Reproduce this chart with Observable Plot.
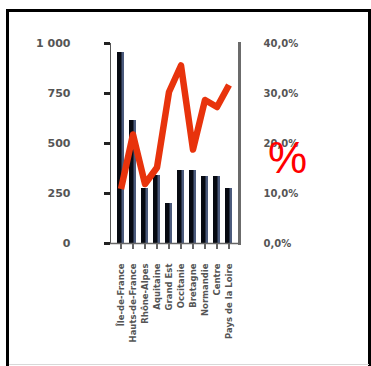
<!DOCTYPE html>
<html>
<head>
<meta charset="utf-8">
<script src="https://cdn.jsdelivr.net/npm/d3@7"></script>
<script src="https://cdn.jsdelivr.net/npm/@observablehq/plot@0.6"></script>
<style>
  html, body { margin: 0; padding: 0; background: #fff; overflow: hidden; }
  body { width: 371px; height: 366px; position: relative; font-family: "Liberation Sans", Arial, sans-serif; }
  #frame { position: absolute; left: 6px; top: 9px; width: 365px; height: 420px; box-sizing: border-box; border: 3px solid #000; }
  #foot { position: absolute; left: 9px; top: 364px; width: 360px; height: 1px; background: #d8d8d8; }
  #chart { position: absolute; left: 0; top: 0; }
  #pct { position: absolute; left: 268px; top: 136px; font-size: 44px; line-height: 1; color: #ff0000; }
</style>
</head>
<body>
<div id="frame"></div>
<div id="foot"></div>
<div id="chart"></div>
<div id="pct">%</div>
<script>
// Categories along the x axis
const categories = [
  "Île-de-France",
  "Hauts-de-France",
  "Rhône-Alpes",
  "Aquitaine",
  "Grand Est",
  "Occitanie",
  "Bretagne",
  "Normandie",
  "Centre",
  "Pays de la Loire"
];
// Bar values (left axis)
const counts = [955, 615, 275, 340, 200, 365, 365, 335, 335, 275];
// Line values in percent (right axis)
const shares = [10.9, 21.8, 11.9, 15.2, 30.3, 35.6, 18.8, 28.7, 27.3, 31.7];
// Axis ticks
const leftTicks = [0, 250, 500, 750, 1000];
const rightTicks = [0, 10, 20, 30, 40];

const leftMax = 1000;
const rightMax = 40;
const toLeft = v => v * leftMax / rightMax;

const rows = categories.map((c, i) => ({cat: c, n: counts[i], p: shares[i]}));

const fmtLeft = d => d >= 1000 ? d3.format(",")(d).replace(",", " ") : String(d);
const fmtRight = d => (d * rightMax / leftMax).toFixed(1).replace(".", ",") + "%";

const chart = Plot.plot({
  width: 371,
  height: 366,
  marginLeft: 110,
  marginRight: 132,
  marginTop: 43,
  marginBottom: 123,
  style: {fontFamily: "'DejaVu Sans', sans-serif", background: "transparent"},
  x: {domain: categories, padding: 0.38, axis: null},
  y: {domain: [0, leftMax], axis: null},
  marks: [
    // bars: slate edge with a dark body
    Plot.barY(rows, {x: "cat", y: "n", fill: "#4b5a7c"}),
    Plot.barY(rows, {x: "cat", y: "n", fill: "#070a12", insetRight: 2.5}),
    // left axis
    Plot.frame({anchor: "left", stroke: "#555", strokeWidth: 1}),
    Plot.axisY({
      anchor: "left", label: null, ticks: leftTicks, tickFormat: fmtLeft,
      tickSize: 6, tickPadding: 34, strokeWidth: 3, stroke: "#222",
      fontSize: 11, fontWeight: "bold", fill: "#555"
    }),
    // right axis (percent)
    Plot.frame({anchor: "right", stroke: "#6b6b6b", strokeWidth: 3}),
    Plot.axisY({
      anchor: "right", label: null, ticks: leftTicks, tickFormat: fmtRight,
      tickSize: 0, tickPadding: 24,
      fontSize: 10, fontWeight: "bold", fill: "#555"
    }),
    // baseline and category axis
    Plot.ruleY([0], {stroke: "#666", strokeWidth: 1.5}),
    Plot.axisX({
      anchor: "bottom", label: null, tickSize: 6, tickRotate: -90, tickPadding: 14,
      stroke: "#666", strokeWidth: 2, fontSize: 8.5, fill: "#555", fontWeight: "bold",
      textOverflow: null
    }),
    // percent line
    Plot.line(rows, {x: "cat", y: d => toLeft(d.p), stroke: "#e8330c", strokeWidth: 6.5,
      strokeLinejoin: "round", strokeLinecap: "butt"})
  ]
});
document.getElementById("chart").appendChild(chart);
</script>
</body>
</html>
